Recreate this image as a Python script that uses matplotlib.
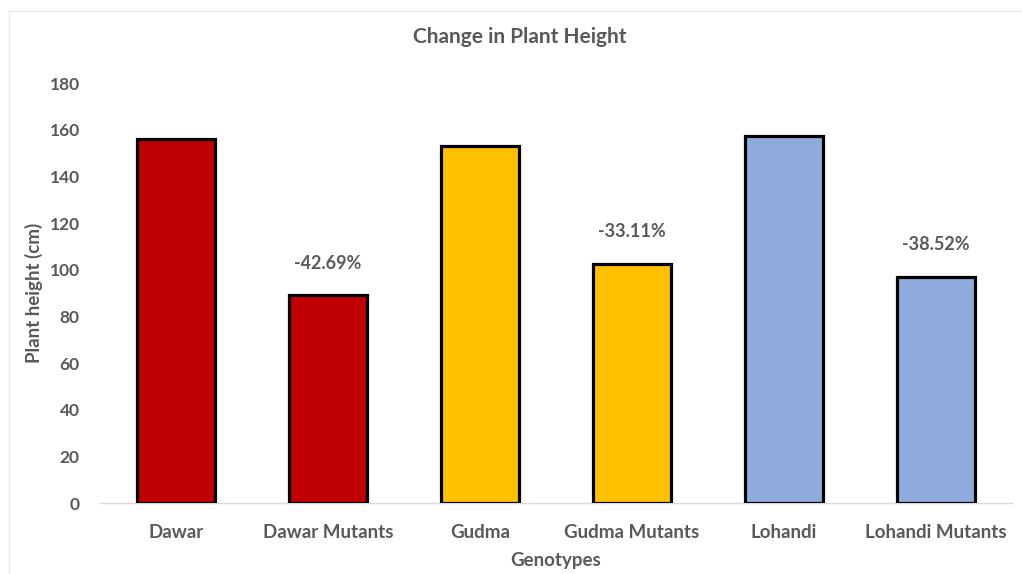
import matplotlib
matplotlib.use("Agg")
import matplotlib.pyplot as plt
from matplotlib.patches import Rectangle

categories = ["Dawar", "Dawar Mutants", "Gudma", "Gudma Mutants", "Lohandi", "Lohandi Mutants"]
heights = [156, 89, 153, 102.5, 157.5, 97]
colors = ["#C00000", "#C00000", "#FFC000", "#FFC000", "#8FAADC", "#8FAADC"]
change_labels = ["", "-42.69%", "", "-33.11%", "", "-38.52%"]
yticks = [0, 20, 40, 60, 80, 100, 120, 140, 160, 180]

plt.rcParams['font.family'] = ['Lato', 'DejaVu Sans']
gray = "#595959"

W, H = 1022, 574
fig = plt.figure(figsize=(W / 100, H / 100), dpi=100)
fig.patch.set_facecolor("white")

# chart area border
fig.patches.append(Rectangle((9 / W, -0.05), 1.1, (H - 11) / H + 0.05, transform=fig.transFigure,
                             facecolor="none", edgecolor="#e6e6e6", linewidth=1.0))

ax = fig.add_axes([100 / W, (H - 503) / H, (1012 - 100) / W, (503 - 83) / H])
x = list(range(len(categories)))
ax.bar(x, heights, width=0.51, color=colors, edgecolor="black", linewidth=2.3, zorder=3)

for xi, h, lab in zip(x, heights, change_labels):
    if lab:
        ax.annotate(lab, (xi, h), xytext=(0, 17), textcoords="offset points",
                    ha="center", va="bottom", fontsize=13, fontweight="bold", color=gray)

ax.set_xlim(-0.5, len(categories) - 0.5)
ax.set_ylim(0, 180)
ax.set_yticks(yticks)
ax.set_xticks(x)
ax.set_xticklabels(categories, fontsize=13.5)
ax.tick_params(axis="both", length=0, labelcolor=gray)
ax.tick_params(axis="y", labelsize=12.5, pad=14.5)
ax.tick_params(axis="x", pad=15)
for lbl in ax.get_xticklabels() + ax.get_yticklabels():
    lbl.set_fontweight("bold")

for s in ["top", "right", "left"]:
    ax.spines[s].set_visible(False)
ax.spines["bottom"].set_color("#d9d9d9")
ax.spines["bottom"].set_linewidth(1.0)

ax.set_ylabel("Plant height (cm)", fontsize=13.5, fontweight="bold", color=gray, labelpad=5)
ax.set_xlabel("Genotypes", fontsize=13.5, fontweight="bold", color=gray, labelpad=8)

fig.text(520 / W, 1 - 37 / H, "Change in Plant Height", ha="center", va="center",
         fontsize=15, fontweight="bold", color=gray)

fig.savefig("out.png", dpi=100, facecolor="white")
